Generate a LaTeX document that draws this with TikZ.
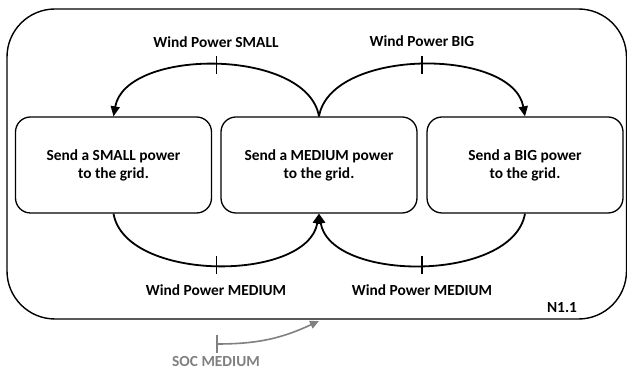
\documentclass[tikz,border=0pt]{standalone}
\usepackage{fontspec}
\setmainfont{Carlito}
\usetikzlibrary{arrows.meta}

\begin{document}
\begin{tikzpicture}[x=1pt,y=1pt,
  statebox/.style={draw=black,line width=1.3pt,rounded corners=15pt,minimum width=196pt,minimum height=96pt,inner sep=0pt,align=center,font=\fontsize{15.4}{18}\selectfont\bfseries},
  lbl/.style={inner sep=0pt,font=\fontsize{15.4}{18}\selectfont\bfseries},
  trans/.style={line width=1.8pt,-{Triangle[length=10pt,width=9pt]}}]
\useasboundingbox (0,0) rectangle (627,371); % Size of the picture
\definecolor{linecolor}{RGB}{0,0,0} % Definition of the line color
\definecolor{soccolor}{RGB}{128,128,128} % Definition of the colour of the SOC input
\draw[draw=linecolor,line width=1.4pt,rounded corners=48pt] (7,52) rectangle (626.5,362); % Draw the frame of the automaton N1.1
\node[lbl] (name) at (562,63) {N1.1}; % Name of the automaton
\node[statebox] (small) at (113.5,206) {Send a SMALL power\\to the grid.}; % State SMALL
\node[statebox] (medium) at (319,206) {Send a MEDIUM power\\to the grid.}; % State MEDIUM
\node[statebox] (big) at (525,206) {Send a BIG power\\to the grid.}; % State BIG
\draw[trans] (medium.north) to[out=100,in=80,looseness=0.87] coordinate[pos=0.5] (tks) (small.north); % Transition MEDIUM -> SMALL
\draw[trans] (medium.north) to[out=80,in=100,looseness=0.87] coordinate[pos=0.5] (tkb) (big.north); % Transition MEDIUM -> BIG
\draw[trans] (small.south) to[out=-80,in=-100,looseness=0.87] coordinate[pos=0.5] (tkm1) (medium.south); % Transition SMALL -> MEDIUM
\draw[trans] (big.south) to[out=-100,in=-80,looseness=0.87] coordinate[pos=0.5] (tkm2) (medium.south); % Transition BIG -> MEDIUM
\draw[line width=1.3pt] (tks) ++(0,-9) -- ++(0,18); % Tick of the transition
\draw[line width=1.3pt] (tkb) ++(0,-9) -- ++(0,18); % Tick of the transition
\draw[line width=1.3pt] (tkm1) ++(0,-9) -- ++(0,18); % Tick of the transition
\draw[line width=1.3pt] (tkm2) ++(0,-9) -- ++(0,18); % Tick of the transition
\node[lbl] (ls) at (216,329) {Wind Power SMALL}; % Label of the transition
\node[lbl] (lb) at (422,330) {Wind Power BIG}; % Label of the transition
\node[lbl] (lm1) at (216,81) {Wind Power MEDIUM}; % Label of the transition
\node[lbl] (lm2) at (422,81) {Wind Power MEDIUM}; % Label of the transition
\coordinate (soc) at (216,27); % Start of the SOC input
\coordinate (init) at (319,50); % Target of the SOC input
\draw[draw=soccolor,line width=1.6pt,{Bar[width=18pt]}-{Triangle[length=9pt,width=8pt]}] (soc) to[out=0,in=205] (init); % Draw the SOC input
\node[lbl,text=soccolor] (lsoc) at (216,9) {SOC MEDIUM}; % Label of the SOC input
\end{tikzpicture}
\end{document}
